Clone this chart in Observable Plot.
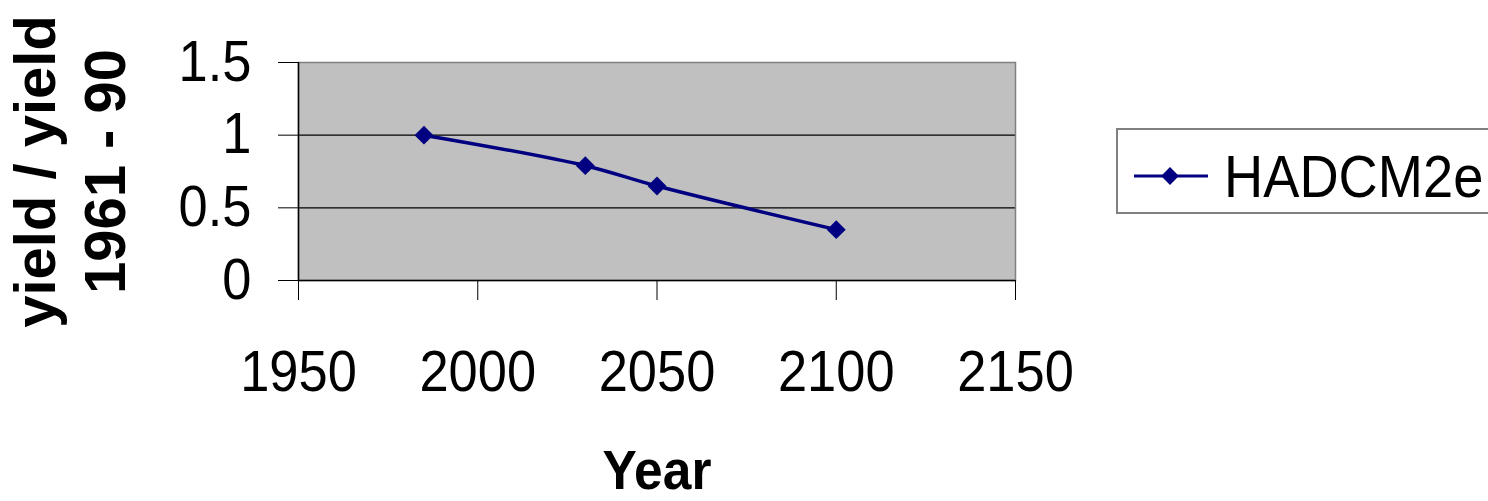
<!DOCTYPE html>
<html>
<head>
<meta charset="utf-8">
<script src="https://cdn.jsdelivr.net/npm/d3@7"></script>
<script src="https://cdn.jsdelivr.net/npm/@observablehq/plot@0.6"></script>
<style>
  html, body { margin: 0; padding: 0; background: #ffffff; overflow: hidden; }
  #wrap { position: relative; width: 1488px; height: 501px; font-family: "Liberation Sans", Arial, sans-serif; }
  #legend { position: absolute; left: 0; top: 0; }
</style>
</head>
<body>
<div id="wrap"></div>
<script>
// ---- data ----
const years = [1985, 2030, 2050, 2100];
const ratio = [1.0, 0.79, 0.65, 0.35];
const seriesName = "HADCM2e";
const xTicks = [1950, 2000, 2050, 2100, 2150];
const yTicks = [0, 0.5, 1, 1.5];
const gridValues = [0.5, 1];
const xTitle = "Year";
const yTitle = "yield / yield\n1961 - 90";

const data = years.map((y, i) => ({year: y, ratio: ratio[i]}));
const navy = "#000080";

const chart = Plot.plot({
  width: 1488,
  height: 501,
  marginLeft: 298,
  marginRight: 473,
  marginTop: 62,
  marginBottom: 221,
  style: {fontFamily: "'Liberation Sans', Arial, sans-serif", background: "transparent", overflow: "visible", color: "#000"},
  x: {domain: [1950, 2150]},
  y: {domain: [0, 1.5]},
  marks: [
    Plot.frame({fill: "#c0c0c0", stroke: null}),
    Plot.ruleY(gridValues, {stroke: "#000", strokeWidth: 1.2}),
    Plot.frame({stroke: "#808080", strokeWidth: 1.5}),
    Plot.ruleX([1950], {stroke: "#000", strokeWidth: 1.5}),
    Plot.ruleY([0], {stroke: "#000", strokeWidth: 1.5}),
    Plot.axisX({ticks: xTicks, tickSize: 20, tickPadding: 50, fontSize: 57, tickFormat: d => String(d), label: null, stroke: "#000"}),
    Plot.axisY({ticks: yTicks, tickSize: 20, tickPadding: 27, fontSize: 57, tickFormat: d => String(d), label: null, stroke: "#000"}),
    Plot.text([xTitle], {text: d => d, frameAnchor: "bottom", dy: 208, lineAnchor: "bottom", fontSize: 56, fontWeight: "bold", fill: "#000"}),
    Plot.text([yTitle], {text: d => d, frameAnchor: "left", dx: -293, rotate: -90, lineAnchor: "top", textAnchor: "middle", fontSize: 58, fontWeight: "bold", lineHeight: 1.207, fill: "#000"}),
    Plot.line(data, {x: "year", y: "ratio", stroke: navy, strokeWidth: 3.5, curve: "catmull-rom"}),
    Plot.dot(data, {x: "year", y: "ratio", symbol: "diamond2", r: 8.5, fill: navy, stroke: "none"})
  ]
});

// horizontal compression of upright text to match reference glyph proportions
chart.querySelectorAll("text").forEach(el => {
  const t = el.getAttribute("transform") || "";
  if (t.includes("rotate")) return;
  const x = +(el.getAttribute("x") || 0);
  if (t) el.setAttribute("transform", t + " scale(0.92,1)");
  else el.setAttribute("transform", `translate(${x},0) scale(0.92,1) translate(${-x},0)`);
});

const wrap = document.getElementById("wrap");
wrap.appendChild(chart);

// legend (overlay)
const lg = d3.create("svg")
  .attr("id", "legend")
  .attr("width", 1488).attr("height", 501)
  .style("position", "absolute").style("left", "0px").style("top", "0px");
lg.append("rect").attr("x", 1117).attr("y", 129).attr("width", 400).attr("height", 84)
  .attr("fill", "#fff").attr("stroke", "#808080").attr("stroke-width", 2);
lg.append("line").attr("x1", 1134).attr("x2", 1208).attr("y1", 176).attr("y2", 176)
  .attr("stroke", navy).attr("stroke-width", 3);
lg.append("path").attr("transform", "translate(1170,176)")
  .attr("d", d3.symbol(d3.symbolDiamond2, Math.PI * 8 * 8)())
  .attr("fill", navy);
lg.append("text").attr("transform", "translate(1224,197) scale(0.92,1)")
  .attr("font-family", "'Liberation Sans', Arial, sans-serif")
  .attr("font-size", 59).attr("fill", "#000")
  .text(seriesName);
wrap.appendChild(lg.node());
</script>
</body>
</html>
